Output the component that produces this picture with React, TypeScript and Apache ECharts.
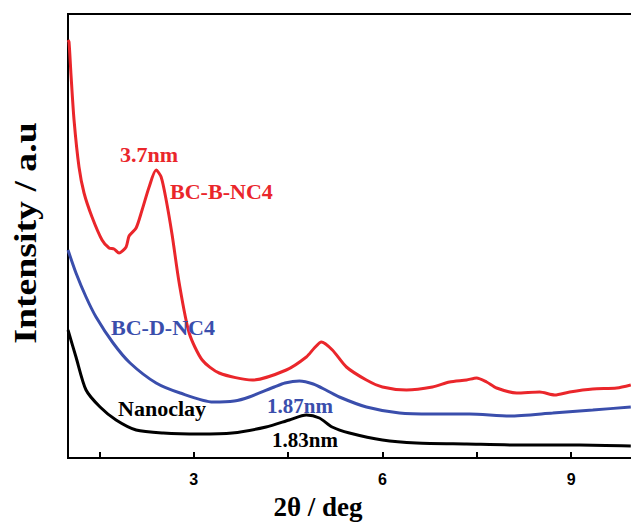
import React, { useEffect, useRef } from "react";
import * as echarts from "echarts";

const redX = [1.0, 1.016, 1.048, 1.096, 1.175, 1.255, 1.382, 1.541, 1.653, 1.732, 1.812, 1.924, 1.971, 2.083, 2.178, 2.29, 2.401, 2.481, 2.561, 2.656, 2.768, 2.927, 3.134, 3.404, 3.93, 4.471, 4.79, 4.917, 5.029, 5.204, 5.427, 5.745, 6.0, 6.382, 6.796, 7.067, 7.338, 7.497, 7.656, 7.815, 8.134, 8.5, 8.739, 8.978, 9.344, 9.726, 9.949];
const redY = [418, 416, 383, 338, 291, 265, 241, 218, 210, 209, 205, 211, 222, 230, 248, 271, 288, 281, 258, 223, 175, 125, 98, 85, 78, 88, 101, 110, 116, 108, 91, 78, 71, 68, 71, 76, 78, 80, 76, 70, 65, 66, 63, 66, 69, 70, 73];

const blueX = [1.0, 1.127, 1.287, 1.446, 1.717, 1.987, 2.401, 2.783, 3.309, 3.643, 3.882, 4.28, 4.45, 4.68, 4.9, 5.1, 5.315, 5.745, 6.271, 6.796, 7.385, 8.022, 8.707, 9.344, 9.949];
const blueY = [208, 185, 161, 141, 115, 95, 75, 65, 56, 57, 61, 71, 75, 77, 74, 68, 61, 51, 45, 44, 44, 42, 45, 48, 51];

const blackX = [1.0, 1.127, 1.287, 1.51, 1.764, 2.083, 2.513, 3.086, 3.61, 4.15, 4.519, 4.79, 4.997, 5.2, 5.475, 6.0, 6.541, 7.338, 8.182, 9.137, 9.949];
const blackY = [128, 101, 68, 51, 38, 28, 25, 24, 25, 31, 38, 43, 40, 31, 25, 18, 15, 14, 13, 13, 12];

const tickValues = [1.5, 3, 4.5, 6, 7.5, 9];
const labelValues = [3, 6, 9];

const RED = "#ea262b";
const BLUE = "#3a4eac";
const BLACK = "#000000";
const SERIF = "'Liberation Serif', 'Times New Roman', serif";
const SANS = "'Liberation Sans', Arial, sans-serif";

const zip = (xs: number[], ys: number[]) => xs.map((x, i) => [x, ys[i]]);

export default function App() {
  const ref = useRef<HTMLDivElement>(null);
  useEffect(() => {
    if (!ref.current) return;
    const chart = echarts.init(ref.current, null, { renderer: "svg" });
    const lineSeries = (name: string, data: number[][], color: string) => ({
      name,
      type: "line",
      data,
      showSymbol: false,
      smooth: 0.25,
      lineStyle: { color, width: 3 },
      itemStyle: { color },
      z: 3,
    });
    const txt = (text: string, x: number, y: number, color: string, size: number, sx = 1.05) => ({
      type: "text",
      x,
      y,
      scaleX: sx,
      style: { text, fill: color, font: `bold ${size}px ${SERIF}`, align: "left", verticalAlign: "middle" },
      z: 10,
    });
    chart.setOption({
      animation: false,
      grid: {
        left: 68,
        right: -3,
        top: 14,
        bottom: 65,
        show: true,
        borderColor: "#000",
        borderWidth: 2,
        backgroundColor: "transparent",
        outerBoundsMode: "none",
        containLabel: false,
      },
      xAxis: {
        type: "value",
        min: 1,
        max: 10,
        axisLine: { show: true, lineStyle: { color: "#000", width: 2 } },
        axisTick: { show: true, inside: true, length: 6, customValues: tickValues, lineStyle: { color: "#000", width: 2 } },
        axisLabel: { show: true, customValues: labelValues, margin: 13, fontFamily: SANS, fontWeight: "bold", fontSize: 16, color: "#000" },
        splitLine: { show: false },
      },
      yAxis: {
        type: "value",
        min: 0,
        max: 444,
        axisLine: { show: true, lineStyle: { color: "#000", width: 2 } },
        axisTick: { show: false },
        axisLabel: { show: false },
        splitLine: { show: false },
      },
      series: [
        lineSeries("BC-B-NC4", zip(redX, redY), RED),
        lineSeries("BC-D-NC4", zip(blueX, blueY), BLUE),
        lineSeries("Nanoclay", zip(blackX, blackY), BLACK),
      ],
      graphic: [
        txt("3.7nm", 120, 155, RED, 21),
        txt("BC-B-NC4", 170, 192, RED, 21),
        txt("BC-D-NC4", 111, 328, BLUE, 21),
        txt("Nanoclay", 118, 409, BLACK, 21),
        txt("1.87nm", 267, 406, BLUE, 20),
        txt("1.83nm", 272, 440, BLACK, 20),
        {
          type: "text",
          x: 318,
          y: 507,
          style: { text: "2θ / deg", fill: "#000", font: `bold 27px ${SERIF}`, align: "center", verticalAlign: "middle" },
        },
        {
          type: "text",
          x: 25,
          y: 233,
          rotation: Math.PI / 2,
          scaleX: 1.18,
          style: { text: "Intensity / a.u", fill: "#000", font: `bold 32px ${SERIF}`, align: "center", verticalAlign: "middle" },
        },
      ],
    });
    return () => chart.dispose();
  }, []);
  return <div ref={ref} style={{ width: 631, height: 523, position: "absolute", left: 0, top: 0 }} />;
}
